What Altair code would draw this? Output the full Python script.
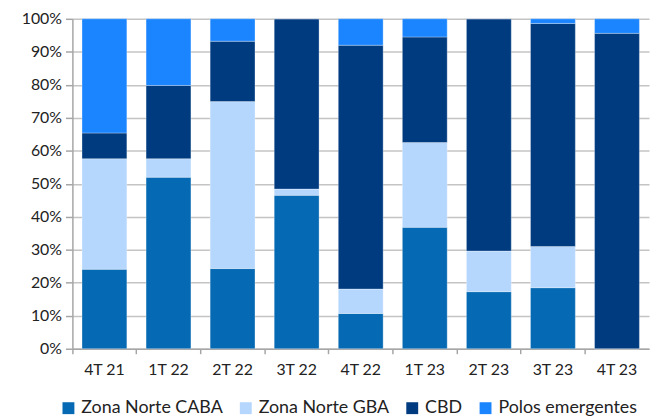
import altair as alt
import pandas as pd

categories = ["4T 21", "1T 22", "2T 22", "3T 22", "4T 22", "1T 23", "2T 23", "3T 23", "4T 23"]
series = ["Zona Norte CABA", "Zona Norte GBA", "CBD", "Polos emergentes"]
colors = ["#0569b3", "#b5d6fd", "#003b80", "#1b85ff"]

caba = [24.1, 52.0, 24.3, 46.5, 10.7, 36.8, 17.3, 18.5, 0.0]
gba = [33.5, 5.6, 50.6, 1.9, 7.4, 25.7, 12.3, 12.5, 0.0]
cbd = [7.8, 22.2, 18.3, 51.6, 73.9, 32.0, 70.4, 67.6, 95.6]
polos = [34.6, 20.2, 6.8, 0.0, 8.0, 5.5, 0.0, 1.4, 4.4]

rows = []
for s_i, (name, vals) in enumerate(zip(series, [caba, gba, cbd, polos])):
    for c, v in zip(categories, vals):
        rows.append({"cat": c, "serie": name, "valor": v / 100.0, "orden": s_i})
df = pd.DataFrame(rows)

FONT = "Lato"

chart = alt.Chart(df).mark_bar(
    width={"band": 0.7}, stroke="#ffffff", strokeWidth=0.6, strokeOpacity=0.5
).encode(
    x=alt.X("cat:N", sort=categories, title=None,
            scale=alt.Scale(paddingInner=0, paddingOuter=0),
            axis=alt.Axis(labelAngle=0, bandPosition=0, grid=False, tickSize=5,
                          tickColor="#a6a6a6", domainColor="#a6a6a6", domainWidth=1.5,
                          tickWidth=1.5, labelFontSize=16, labelFont=FONT,
                          labelColor="#222222", labelPadding=8)),
    y=alt.Y("valor:Q", stack="zero", title=None,
            scale=alt.Scale(domain=[0, 1], nice=False),
            axis=alt.Axis(format=".0%", values=[i / 10 for i in range(11)],
                          grid=True, gridColor="#c4c4c4", gridWidth=1.5,
                          tickSize=7, tickColor="#a6a6a6", tickWidth=1.5,
                          domainColor="#a6a6a6", domainWidth=1.5,
                          labelFontSize=16, labelFont=FONT, labelColor="#222222",
                          labelPadding=4)),
    color=alt.Color("serie:N", sort=series,
                    scale=alt.Scale(domain=series, range=colors),
                    legend=alt.Legend(title=None, orient="none", direction="horizontal",
                                      legendX=-13, legendY=384, symbolType="square",
                                      symbolSize=144, symbolStrokeWidth=0,
                                      labelFontSize=18, labelFont=FONT,
                                      labelColor="#222222", labelOffset=4,
                                      columnPadding=14)),
    order=alt.Order("orden:Q"),
).properties(
    width=582, height=333,
    autosize=alt.AutoSizeParams(type="none"),
    padding={"left": 65, "top": 9, "right": 2, "bottom": 68},
).configure_view(stroke=None)

chart.save("out.html", embed_options={"renderer": "svg", "actions": False})
